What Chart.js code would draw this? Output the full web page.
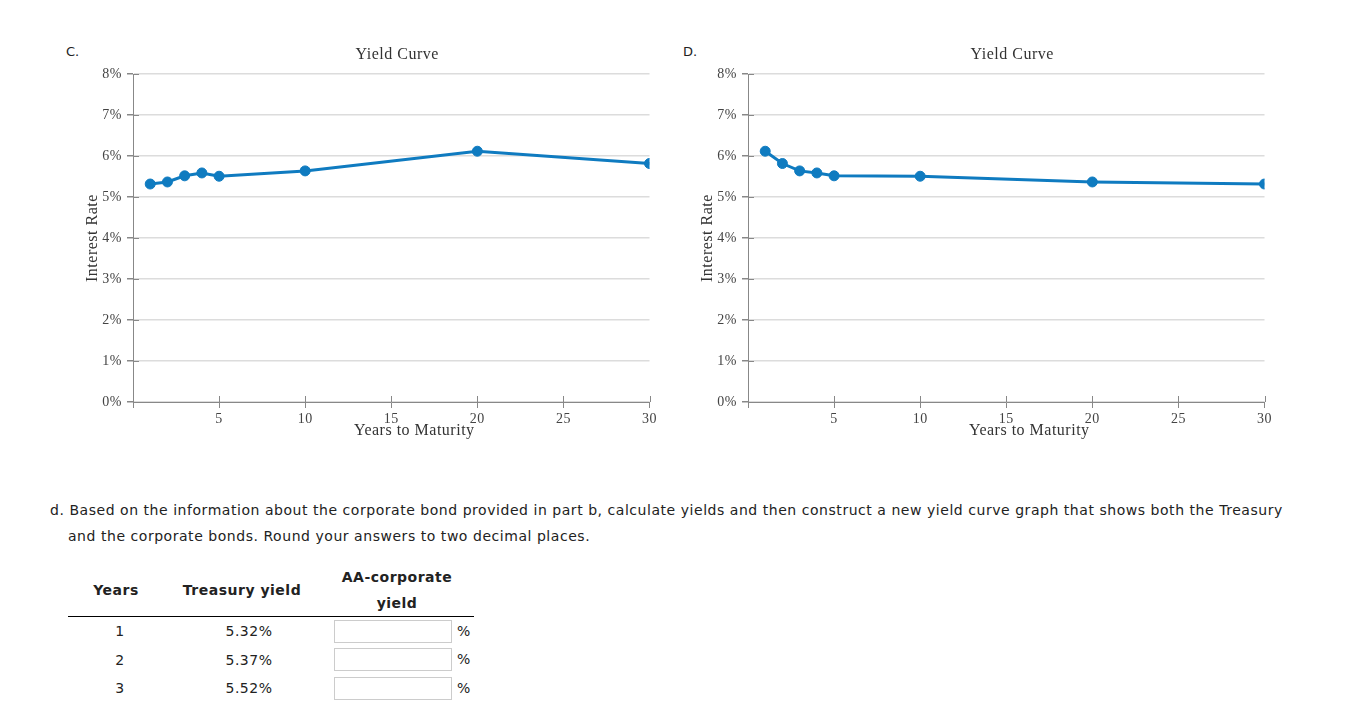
<!DOCTYPE html>
<html>
<head>
<meta charset="utf-8">
<script src="https://cdn.jsdelivr.net/npm/chart.js@4"></script>
<style>
  body { margin: 0; width: 1350px; height: 723px; overflow: hidden; background: #fff;
         font-family: "DejaVu Sans", Verdana, sans-serif; font-size: 14px; letter-spacing: 0.5px;
         color: #222; position: relative; }
  .lbl { position: absolute; top: 44px; font-size: 13px; letter-spacing: 0; }
  .box { position: absolute; top: 40px; width: 580px; height: 403px; }
  #txt { position: absolute; left: 50px; top: 497px; width: 1232px; line-height: 26px;
         padding-left: 18px; text-indent: -18px; letter-spacing: 0.54px; }
  table { position: absolute; left: 68px; top: 564px; border-collapse: collapse; }
  th { font-weight: bold; line-height: 26px; padding: 0; text-align: center; border-bottom: 1px solid #000; }
  td { height: 28.5px; padding: 0; text-align: center; }
  td.c1 { padding-left: 8px; }
  td.c2 { padding-left: 14px; }
  td.inp { text-align: left; padding-left: 14px; }
  input { box-sizing: border-box; width: 118px; height: 23px; border: 1px solid #ccc; vertical-align: middle; margin: 0 5px 0 0; }
</style>
</head>
<body>
<div class="lbl" style="left:66px">C.</div>
<div class="lbl" style="left:683px">D.</div>
<div class="box" style="left:80px"><canvas id="chartC"></canvas></div>
<div class="box" style="left:695px"><canvas id="chartD"></canvas></div>

<div id="txt">d. Based on the information about the corporate bond provided in part b, calculate yields and then construct a new yield curve graph that shows both the Treasury and the corporate bonds. Round your answers to two decimal places.</div>

<table>
  <thead>
    <tr>
      <th style="width:96px">Years</th>
      <th style="width:156px">Treasury yield</th>
      <th style="width:154px">AA-corporate<br>yield</th>
    </tr>
  </thead>
  <tbody id="rows"></tbody>
</table>

<script>
// years to maturity (x values)
const years = [1, 2, 3, 4, 5, 10, 20, 30];
// C. yield curve (%)
const yieldsC = [5.32, 5.37, 5.52, 5.59, 5.51, 5.64, 6.12, 5.82];
// D. yield curve (%)
const yieldsD = [6.12, 5.82, 5.64, 5.59, 5.52, 5.51, 5.37, 5.32];
// rows shown in the table
const tableYears = [1, 2, 3];
const treasuryYields = [5.32, 5.37, 5.52];

const rows = document.getElementById("rows");
for (let i = 0; i < tableYears.length; i++) {
  const tr = document.createElement("tr");
  tr.innerHTML = "<td class='c1'>" + tableYears[i] + "</td><td class='c2'>" + treasuryYields[i].toFixed(2) + "%</td>" +
                 "<td class='inp'><input type='text'>%</td>";
  rows.appendChild(tr);
}

const blue = '#0f7bc0';
const serif = "'Liberation Serif', 'Times New Roman', serif";

// small tick marks that cross into the plot area
const innerTicks = {
  id: 'innerTicks',
  beforeDatasetsDraw(chart) {
    const ctx = chart.ctx;
    const x = chart.scales.x, y = chart.scales.y;
    ctx.save();
    ctx.strokeStyle = '#888';
    ctx.lineWidth = 1;
    ctx.beginPath();
    x.ticks.forEach(t => {
      const px = Math.round(x.getPixelForValue(t.value)) + 0.5;
      ctx.moveTo(px, y.bottom);
      ctx.lineTo(px, y.bottom - 6);
    });
    y.ticks.forEach(t => {
      const py = Math.round(y.getPixelForValue(t.value)) + 0.5;
      ctx.moveTo(x.left, py);
      ctx.lineTo(x.left + 6, py);
    });
    ctx.stroke();
    ctx.restore();
  }
};

// the titles in the picture sit a bit right of the plot centre
const shiftedTitles = {
  id: 'shiftedTitles',
  afterDraw(chart) {
    const ctx = chart.ctx;
    const a = chart.chartArea;
    const mid = (a.left + a.right) / 2;
    ctx.save();
    ctx.fillStyle = '#333';
    ctx.font = "16px " + serif;
    ctx.textAlign = 'center';
    ctx.textBaseline = 'middle';
    ctx.fillText('Yield Curve', mid + 6, 15);
    ctx.fillText('Years to Maturity', mid + 23, a.bottom + 29);
    ctx.restore();
  }
};

function makeChart(id, values) {
  const pts = years.map((yr, i) => ({ x: yr, y: values[i] }));
  return new Chart(document.getElementById(id), {
    type: 'line',
    data: {
      datasets: [{
        data: pts,
        borderColor: blue,
        backgroundColor: blue,
        borderWidth: 3,
        pointRadius: 5,
        pointBorderWidth: 1,
        pointHoverRadius: 5,
        tension: 0
      }]
    },
    options: {
      responsive: false,
      animation: false,
      maintainAspectRatio: false,
      layout: { padding: { left: 0, right: 10, top: 0, bottom: 0 } },
      plugins: {
        legend: { display: false },
        tooltip: { enabled: false },
        title: {
          display: true,
          text: 'Yield Curve',
          fullSize: false,
          color: 'rgba(0,0,0,0)',
          font: { family: serif, size: 16, weight: 'normal' },
          padding: { top: 5.4, bottom: 9.6 }
        }
      },
      scales: {
        x: {
          type: 'linear',
          min: 0, max: 30,
          border: { color: '#888', width: 1 },
          grid: { drawOnChartArea: false, tickLength: 6, tickColor: '#888' },
          ticks: {
            stepSize: 5,
            padding: 3,
            color: '#444',
            font: { family: serif, size: 14 },
            maxRotation: 0,
            callback: v => v === 0 ? '' : v
          },
          title: {
            display: true,
            text: 'Years to Maturity',
            color: 'rgba(0,0,0,0)',
            font: { family: serif, size: 16 },
            padding: { top: -7, bottom: 0 }
          }
        },
        y: {
          min: 0, max: 8,
          border: { color: '#888', width: 1 },
          grid: { color: '#dcdcdc', lineWidth: 1.5, tickLength: 6, tickColor: '#888' },
          ticks: {
            stepSize: 1,
            padding: 5,
            color: '#444',
            font: { family: serif, size: 14 },
            callback: v => v + '%'
          },
          title: {
            display: true,
            text: 'Interest Rate',
            color: '#333',
            font: { family: serif, size: 16 },
            padding: { top: 3.4, bottom: 0 }
          },
          afterFit: s => { s.width = 53; }
        }
      }
    },
    plugins: [innerTicks, shiftedTitles]
  });
}

for (const id of ['chartC', 'chartD']) {
  document.getElementById(id).width = 580;
  document.getElementById(id).height = 403;
}
makeChart('chartC', yieldsC);
makeChart('chartD', yieldsD);
</script>
</body>
</html>
